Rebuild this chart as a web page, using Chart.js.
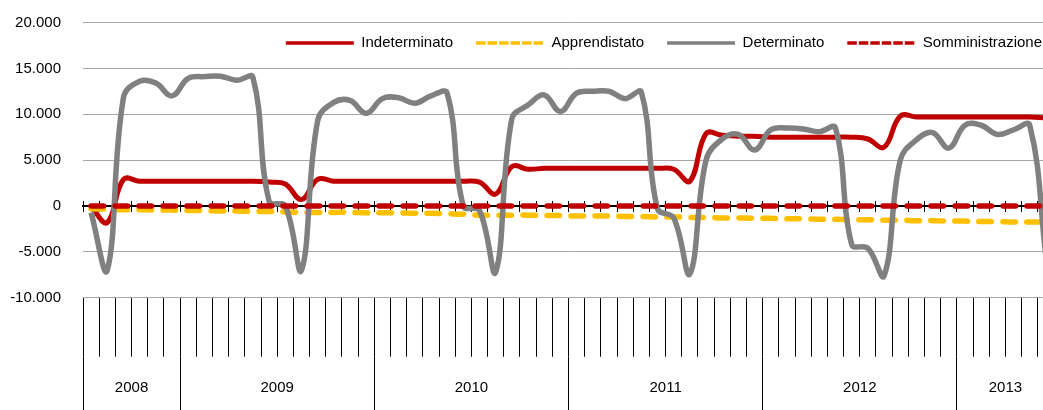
<!DOCTYPE html>
<html>
<head>
<meta charset="utf-8">
<script src="https://cdn.jsdelivr.net/npm/chart.js@4.4.1/dist/chart.umd.min.js"></script>
<style>
  html, body { margin: 0; padding: 0; background: #fff; overflow: hidden; }
  #wrap { width: 1054px; height: 410px; }
</style>
</head>
<body>
<div id="wrap"><canvas id="c" width="1054" height="410"></canvas></div>
<script>
// ---- Data ----
const months = [
  'lug 2008','ago 2008','set 2008','ott 2008','nov 2008','dic 2008',
  'gen 2009','feb 2009','mar 2009','apr 2009','mag 2009','giu 2009','lug 2009','ago 2009','set 2009','ott 2009','nov 2009','dic 2009',
  'gen 2010','feb 2010','mar 2010','apr 2010','mag 2010','giu 2010','lug 2010','ago 2010','set 2010','ott 2010','nov 2010','dic 2010',
  'gen 2011','feb 2011','mar 2011','apr 2011','mag 2011','giu 2011','lug 2011','ago 2011','set 2011','ott 2011','nov 2011','dic 2011',
  'gen 2012','feb 2012','mar 2012','apr 2012','mag 2012','giu 2012','lug 2012','ago 2012','set 2012','ott 2012','nov 2012','dic 2012',
  'gen 2013','feb 2013','mar 2013','apr 2013','mag 2013','giu 2013'
];
const years = ['2008','2009','2010','2011','2012','2013'];
const monthsPerYear = [6, 12, 12, 12, 12, 6];
const yTicks = [-10000, -5000, 0, 5000, 10000, 15000, 20000];

const indeterminato = [
  -100, -1800, 2900, 2700, 2700, 2700,
  2700, 2700, 2700, 2700, 2700, 2600, 2400, 700, 2900, 2700, 2700, 2700,
  2700, 2700, 2700, 2700, 2700, 2700, 2600, 1300, 4300, 4000, 4100, 4100,
  4100, 4100, 4100, 4100, 4100, 4100, 4000, 2700, 7900, 7700, 7600, 7600,
  7500, 7500, 7500, 7500, 7500, 7500, 7300, 6400, 9800, 9700, 9700, 9700,
  9700, 9700, 9700, 9700, 9700, 9600
];
const apprendistato = [
  -300, -350, -400, -400, -450, -450,
  -500, -500, -550, -550, -600, -600, -650, -700, -700, -700, -700, -750,
  -750, -750, -800, -800, -850, -900, -1000, -1000, -1000, -1000, -1050, -1050,
  -1100, -1100, -1100, -1150, -1150, -1200, -1200, -1250, -1250, -1300, -1300, -1350,
  -1350, -1400, -1400, -1450, -1450, -1500, -1500, -1550, -1550, -1600, -1600, -1650,
  -1650, -1700, -1700, -1750, -1750, -1750
];
const determinato = [
  -700, -7000, 11800, 13600, 13400, 12000,
  13900, 14100, 14150, 13700, 14000, 500, 0, -7000, 9300, 11300, 11500, 10100,
  11700, 11800, 11200, 12000, 12300, 0, -500, -7200, 9500, 11000, 12100, 10300,
  12300, 12500, 12500, 11700, 12400, -300, -1300, -7400, 5000, 7300, 7800, 6100,
  8300, 8500, 8400, 8100, 8500, -4200, -4600, -7600, 5000, 7200, 8000, 6300,
  8800, 8800, 7800, 8300, 8800, -5500
];
const somministrazione = [
  0, 0, 0, 0, 0, 0,
  0, 0, 0, 0, 0, 0, 0, 0, 0, 0, 0, 0,
  0, 0, 0, 0, 0, 0, 0, 0, 0, 0, 0, 0,
  0, 0, 0, 0, 0, 0, 0, 0, 0, 0, 0, 0,
  0, 0, 0, 0, 0, 0, 0, 0, 0, 0, 0, 0,
  0, 0, 0, 0, 0, 0
];

// ---- derived tick positions for the year axis ----
const yearBounds = [0];
monthsPerYear.forEach(n => yearBounds.push(yearBounds[yearBounds.length - 1] + n));
const yearCenters = monthsPerYear.map((n, i) => yearBounds[i] + n / 2);
const yearTickValues = yearBounds.concat(yearCenters).sort((a, b) => a - b);

const FONT = "'Liberation Sans', Arial, sans-serif";
const FS = 15;
const LEGEND_PAD = 23;
Chart.defaults.font.family = FONT;
Chart.defaults.font.size = FS;
Chart.defaults.color = '#000';

const fmt = v => {
  if (v === 0) return '0';
  const s = Math.abs(v).toString().replace(/\B(?=(\d{3})+(?!\d))/g, '.');
  return (v < 0 ? '-' : '') + s;
};

// keeps the library legend but lets it sit inside the plot, top-right
const legendInPlot = {
  id: 'legendInPlot',
  afterInit(chart) {
    const lg = chart.legend;
    if (lg && !lg._patched) {
      const fit = lg.fit;
      lg.fit = function () { fit.call(this); this.height = 0; };
      lg._patched = true;
    }
  },
  afterLayout(chart) {
    const lg = chart.legend;
    if (!lg) return;
    lg.top = chart.chartArea.top + 20.5 - LEGEND_PAD - FS / 2;
    lg.bottom = lg.top + 50;
    lg.left = chart.chartArea.left;
    lg.right = chart.chartArea.right - 12 + LEGEND_PAD;
  }
};

const dashedLegend = ['Apprendistato', 'Somministrazione'];

new Chart(document.getElementById('c'), {
  type: 'line',
  data: {
    labels: months,
    datasets: [
      { label: 'Indeterminato', data: indeterminato, borderColor: '#C00000', backgroundColor: '#C00000',
        borderWidth: 5, tension: 0.4, pointRadius: 0, order: 4, xAxisID: 'x', yAxisID: 'y', fill: false },
      { label: 'Apprendistato', data: apprendistato, borderColor: '#FFC000', backgroundColor: '#FFC000',
        borderWidth: 5.5, borderDash: [12.5, 11.5], borderCapStyle: 'round', tension: 0.4, pointRadius: 0, order: 3, xAxisID: 'x', yAxisID: 'y', fill: false },
      { label: 'Determinato', data: determinato, borderColor: '#808080', backgroundColor: '#808080',
        borderWidth: 5.5, tension: 0.4, pointRadius: 0, order: 2, xAxisID: 'x', yAxisID: 'y', fill: false },
      { label: 'Somministrazione', data: somministrazione, borderColor: '#C00000', backgroundColor: '#C00000',
        borderWidth: 5.5, borderDash: [12.5, 11.5], borderCapStyle: 'round', tension: 0.4, pointRadius: 0, order: 1, xAxisID: 'x', yAxisID: 'y', fill: false }
    ]
  },
  options: {
    responsive: false,
    animation: false,
    devicePixelRatio: 1,
    layout: { padding: { top: 22.5, right: 0, bottom: 0, left: 0 } },
    plugins: {
      tooltip: { enabled: false },
      legend: {
        position: 'top',
        align: 'end',
        labels: {
          boxWidth: 68,
          boxHeight: 0,
          padding: LEGEND_PAD,
          font: { size: FS, family: FONT },
          color: '#000',
          sort: (a, b) => a.datasetIndex - b.datasetIndex,
          generateLabels(chart) {
            const items = Chart.defaults.plugins.legend.labels.generateLabels(chart);
            items.forEach(it => {
              it.lineWidth = 3.5;
              it.lineCap = 'butt';
              it.lineDash = dashedLegend.includes(it.text) ? [9.5, 2] : [];
            });
            return items;
          }
        }
      }
    },
    scales: {
      y: {
        min: -10000, max: 20000,
        afterBuildTicks(s) { s.ticks = yTicks.map(v => ({ value: v })); },
        ticks: { padding: 22, font: { size: FS }, color: '#000', callback: v => fmt(v) },
        grid: { color: '#a6a6a6', lineWidth: 1, drawTicks: false },
        border: { display: false },
        afterFit(s) { s.width = 83; s.paddingTop = 0; s.paddingBottom = 0; }
      },
      x: {
        type: 'category', position: 'bottom', weight: 0, offset: true,
        grid: { offset: true, drawOnChartArea: false, color: '#000', lineWidth: 1, tickLength: 59 },
        border: { display: false },
        ticks: { display: false },
        afterFit(s) { s.height = 59.5; }
      },
      xYear: {
        type: 'linear', position: 'bottom', weight: 1, min: 0, max: 60, offset: false,
        afterBuildTicks(s) { s.ticks = yearTickValues.map(v => ({ value: v })); },
        ticks: {
          autoSkip: false, maxRotation: 0, minRotation: 0, padding: -31,
          font: { size: FS }, color: '#000',
          callback: v => { const i = yearCenters.indexOf(v); return i >= 0 ? years[i] : ''; }
        },
        grid: {
          drawOnChartArea: false, tickLength: 53, lineWidth: 1,
          color: ctx => (ctx.tick && yearBounds.includes(ctx.tick.value)) ? '#000' : 'rgba(0,0,0,0)'
        },
        border: { display: false },
        afterFit(s) { s.height = 52.8; }
      },
      xZeroDown: {
        type: 'category', position: { y: 0 }, offset: true,
        grid: { offset: true, drawOnChartArea: false, color: '#000', lineWidth: 1, tickLength: 5 },
        border: { display: true, color: '#000', width: 2 },
        ticks: { display: false }
      },
      xZeroUp: {
        type: 'category', position: { y: 0 }, offset: true,
        grid: { offset: true, drawOnChartArea: false, color: '#000', lineWidth: 1, tickLength: -5 },
        border: { display: false },
        ticks: { display: false }
      }
    }
  },
  plugins: [legendInPlot]
});
</script>
</body>
</html>
